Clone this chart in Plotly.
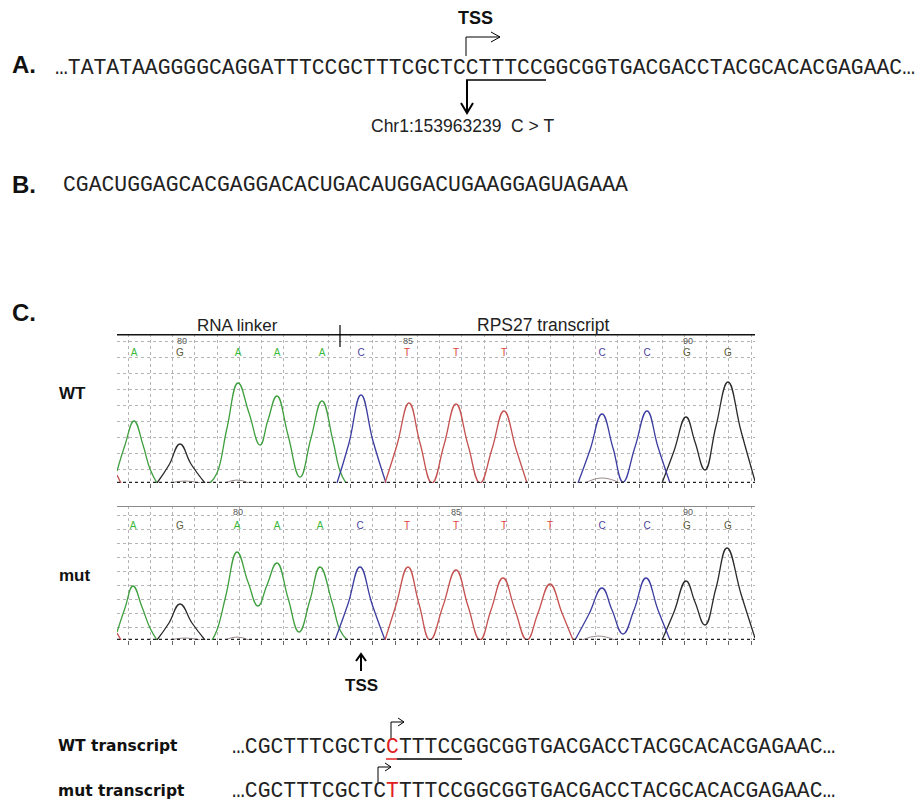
import plotly.graph_objects as go

# ---------------- sequences / text ----------------
seq_A = "…TATATAAGGGGCAGGATTTCCGCTTTCGCTCCTTTCCGGCGGTGACGACCTACGCACACGAGAAC…"
seq_B = "CGACUGGAGCACGAGGACACUGACAUGGACUGAAGGAGUAGAAA"
wt_tx_left, wt_tx_red, wt_tx_right = "…CGCTTTCGCTC", "C", "TTTCCGGCGGTGACGACCTACGCACACGAGAAC…"
mut_tx_left, mut_tx_red, mut_tx_right = "…CGCTTTCGCTC", "T", "TTTCCGGCGGTGACGACCTACGCACACGAGAAC…"
variant_label = "Chr1:153963239  C > T"

# ---------------- chromatogram data (scan position, signal) ----------------
# WT
wt_A_x = [117, 125, 134, 143, 150, 157, None,
          210, 217, 227, 238, 249, 260, 268, 277, 288, 300, 311, 322, 333, 340, 346]
wt_A_y = [12, 38, 62, 38, 14, 0, None,
          0, 10, 55, 100, 70, 38, 63, 87, 48, 6, 45, 82, 42, 12, 0]
wt_G_x = [157, 169, 180, 191, 205, None,
          662, 674, 686, 695, 705, 716, 728, 741, 755]
wt_G_y = [0, 18, 39, 19, 0, None,
          0, 32, 66, 41, 13, 57, 101, 52, 2]
wt_C_x = [337, 349, 361, 373, 386, None,
          578, 590, 602, 613, 623, 635, 647, 658, 670]
wt_C_y = [0, 40, 88, 42, 0, None,
          0, 33, 69, 35, 1, 36, 72, 36, 0]
wt_T_x = [117, 121, None,
          385, 397, 409, 420, 432, 444, 456, 468, 480, 492, 504, 516, 527]
wt_T_y = [8, 0, None,
          0, 38, 80, 40, 0, 38, 79, 38, 0, 34, 72, 34, 0]
wt_noise_x = [170, 185, 200, None, 225, 237, 249, None, 585, 602, 620]
wt_noise_y = [0, 2, 0, None, 0, 3, 0, None, 0, 5, 0]

# mut
mut_A_x = [117, 125, 133, 142, 150, 157, None,
           212, 217, 226, 237, 248, 258, 267, 277, 288, 299, 310, 320, 332, 340, 347]
mut_A_y = [8, 32, 54, 33, 12, 0, None,
           0, 10, 45, 88, 58, 34, 55, 77, 42, 8, 40, 73, 38, 10, 0]
mut_G_x = [157, 169, 180, 192, 205, None,
           662, 674, 686, 695, 705, 716, 727, 741, 755]
mut_G_y = [0, 17, 36, 17, 0, None,
           0, 28, 59, 38, 15, 52, 92, 46, 2]
mut_C_x = [335, 348, 360, 372, 385, None,
           575, 589, 602, 612, 623, 634, 646, 658, 670]
mut_C_y = [0, 36, 73, 36, 0, None,
           0, 26, 52, 30, 6, 30, 62, 30, 0]
mut_T_x = [117, 121, None,
           385, 396, 408, 419, 430, 443, 456, 468, 480, 491, 503, 515, 527, 538, 550, 562, 573]
mut_T_y = [7, 0, None,
           0, 35, 73, 36, 0, 34, 70, 34, 0, 30, 62, 30, 0, 27, 56, 27, 0]
mut_noise_x = [170, 185, 200, None, 225, 237, 249, None, 582, 598, 615]
mut_noise_y = [0, 2, 0, None, 0, 3, 0, None, 0, 4, 0]

# base calls
wt_calls = ["A", "G", "A", "A", "A", "C", "T", "T", "T", "C", "C", "G", "G"]
wt_call_x = [134, 180, 238, 277, 322, 361, 407, 456, 504, 602, 647, 687, 728]
mut_calls = ["A", "G", "A", "A", "A", "C", "T", "T", "T", "T", "C", "C", "G", "G"]
mut_call_x = [133, 180, 237, 277, 320, 360, 407, 456, 504, 550, 602, 647, 687, 728]
wt_pos_labels = ["80", "85", "90"]
wt_pos_x = [182, 408, 688]
mut_pos_labels = ["80", "85", "90"]
mut_pos_x = [238, 456, 688]

trace_colors = {"A": "#3f9f3f", "C": "#3c3ca0", "T": "#c4504f", "G": "#2a2a2a"}
call_colors = {"A": "#3cb83c", "C": "#4a3fa0", "T": "#e0443c", "G": "#5a5a3a"}

W, H = 922, 803
X0, X1 = 117, 755
WT_BASE, WT_TOP = 483, 334
MUT_BASE, MUT_TOP = 640, 506

fig = go.Figure()

def add_chrom(xa, ya, series, noise_x, noise_y):
    fig.add_trace(go.Scatter(x=noise_x, y=noise_y, mode="lines", xaxis=xa, yaxis=ya,
                             line=dict(color="#9a8a8a", width=1, shape="spline", smoothing=1.3),
                             connectgaps=False, hoverinfo="skip", showlegend=False))
    for base, xs, ys in series:
        fig.add_trace(go.Scatter(x=xs, y=ys, mode="lines", xaxis=xa, yaxis=ya,
                                 line=dict(color=trace_colors[base], width=1.3, shape="spline", smoothing=1.3),
                                 connectgaps=False, hoverinfo="skip", showlegend=False))

add_chrom("x2", "y2", [("A", wt_A_x, wt_A_y), ("G", wt_G_x, wt_G_y), ("C", wt_C_x, wt_C_y), ("T", wt_T_x, wt_T_y)],
          wt_noise_x, wt_noise_y)
add_chrom("x3", "y3", [("A", mut_A_x, mut_A_y), ("G", mut_G_x, mut_G_y), ("C", mut_C_x, mut_C_y), ("T", mut_T_x, mut_T_y)],
          mut_noise_x, mut_noise_y)

wt_range = WT_BASE - WT_TOP
mut_range = MUT_BASE - MUT_TOP

def add_calls(xa, ya, calls, xs, yval):
    for base in "AGCT":
        px = [x for x, b in zip(xs, calls) if b == base]
        fig.add_trace(go.Scatter(x=px, y=[yval] * len(px), mode="text", text=[base] * len(px),
                                 textfont=dict(size=10, family="Liberation Sans", color=call_colors[base]),
                                 xaxis=xa, yaxis=ya, hoverinfo="skip", showlegend=False))

add_calls("x2", "y2", wt_calls, wt_call_x, WT_BASE - 353)
add_calls("x3", "y3", mut_calls, mut_call_x, MUT_BASE - 526)
fig.add_trace(go.Scatter(x=wt_pos_x, y=[WT_BASE - 342] * 3, mode="text", text=wt_pos_labels,
                         textfont=dict(size=9, family="Liberation Sans", color="#555"),
                         xaxis="x2", yaxis="y2", hoverinfo="skip", showlegend=False))
fig.add_trace(go.Scatter(x=mut_pos_x, y=[MUT_BASE - 513] * 3, mode="text", text=mut_pos_labels,
                         textfont=dict(size=9, family="Liberation Sans", color="#555"),
                         xaxis="x3", yaxis="y3", hoverinfo="skip", showlegend=False))

grid = dict(showgrid=True, gridcolor="#b5b5b5", griddash="dot", gridwidth=1,
            showticklabels=False, zeroline=False, showline=False, fixedrange=True)

fig.update_layout(
    width=W, height=H, margin=dict(l=0, r=0, t=0, b=0),
    paper_bgcolor="white", plot_bgcolor="rgba(0,0,0,0)", showlegend=False,
    xaxis=dict(domain=[0, 1], range=[0, W], visible=False, fixedrange=True),
    yaxis=dict(domain=[0, 1], range=[H, 0], visible=False, fixedrange=True),
    xaxis2=dict(domain=[X0 / W, X1 / W], range=[X0, X1], anchor="y2", tick0=128, dtick=22.25,
                ticks="outside", ticklen=4, tickcolor="#666", **grid),
    yaxis2=dict(domain=[(H - WT_BASE) / H, (H - WT_TOP) / H], range=[0, wt_range], anchor="x2",
                tick0=14, dtick=15.9, ticks="", **grid),
    xaxis3=dict(domain=[X0 / W, X1 / W], range=[X0, X1], anchor="y3", tick0=128, dtick=22.25,
                ticks="outside", ticklen=4, tickcolor="#666", **grid),
    yaxis3=dict(domain=[(H - MUT_BASE) / H, (H - MUT_TOP) / H], range=[0, mut_range], anchor="x3",
                tick0=13, dtick=14, ticks="", **grid),
)

shapes = []
def line(x0, y0, x1, y1, color="black", width=1, dash=None, xref="x", yref="y"):
    d = dict(type="line", x0=x0, y0=y0, x1=x1, y1=y1, xref=xref, yref=yref,
             line=dict(color=color, width=width))
    if dash:
        d["line"]["dash"] = dash
    shapes.append(d)

def path(p, color="black", width=1):
    shapes.append(dict(type="path", path=p, xref="x", yref="y", line=dict(color=color, width=width)))

# chromatogram frames
line(X0, wt_range, X1 + 2, wt_range, color="#111", width=3, xref="x2", yref="y2")
line(X0, 0, X1, 0, color="#222", width=2.5, dash="dot", xref="x2", yref="y2")
line(X0, mut_range, X1 + 2, mut_range, color="#8a8a8a", width=2, xref="x3", yref="y3")
line(X0, 0, X1, 0, color="#222", width=2.5, dash="dot", xref="x3", yref="y3")
line(340, 325, 340, 347, width=1.2)

# panel A arrows
line(466, 56, 466, 37)
line(466, 37, 500, 37)
path("M 491 32 L 500 37 L 491 42")
line(466, 80, 546, 80, width=1.3)
line(467, 80, 467, 112, width=2)
path("M 461 103 L 467 113 L 473 103", width=2)

# TSS arrow below chromatogram
line(361, 671, 361, 655, width=2)
path("M 356 661 L 361 654 L 366 661", width=2)

# transcripts arrows / underline
line(391, 740, 391, 722)
line(391, 722, 404, 722)
path("M 398 718 L 404 722 L 398 726")
line(386, 759, 397, 759, color="#e02020", width=1.5)
line(397, 759, 462, 759, width=1.3)
line(378, 784, 378, 767)
line(378, 767, 391, 767)
path("M 385 763 L 391 767 L 385 771")

fig.update_layout(shapes=shapes)

ann = []
def text(x, y, s, size, family="Liberation Sans", color="#111", xanchor="left", bold=False):
    ann.append(dict(x=x, y=y, xref="x", yref="y", text=("<b>%s</b>" % s) if bold else s,
                    showarrow=False, xanchor=xanchor, yanchor="middle",
                    font=dict(size=size, family=family, color=color)))

MONO = "Liberation Mono"
text(10, 64, "A.", 24, bold=True)
text(10, 184, "B.", 24, bold=True)
text(10, 312, "C.", 24, bold=True)
text(475, 18, "TSS", 18, bold=True, xanchor="center")
text(53, 68, seq_A, 21.4, family=MONO, color="#222")
text(462, 126, variant_label, 17.5, xanchor="center", color="#222")
text(61, 185, seq_B, 21.4, family=MONO, color="#222")
text(237, 325, "RNA linker", 17, xanchor="center", color="#222")
text(543, 325, "RPS27 transcript", 17.5, xanchor="center", color="#222")
text(57, 393, "WT", 17, bold=True)
text(57, 575, "mut", 17, bold=True)
text(361, 685, "TSS", 17, bold=True, xanchor="center")
text(56, 746, "WT transcript", 15.5, family="DejaVu Sans", bold=True)
text(56, 791, "mut transcript", 15.5, family="DejaVu Sans", bold=True)
text(230, 747, wt_tx_left + '<span style="color:#e02020">' + wt_tx_red + '</span>' + wt_tx_right,
     21.4, family=MONO, color="#222")
text(230, 791, mut_tx_left + '<span style="color:#e02020">' + mut_tx_red + '</span>' + mut_tx_right,
     21.4, family=MONO, color="#222")
fig.update_layout(annotations=ann)

fig.write_html("out.html", config={"displayModeBar": False},
               post_script="document.body.style.margin='0px';document.body.style.padding='0px';"
                           "document.body.style.overflow='hidden';")
